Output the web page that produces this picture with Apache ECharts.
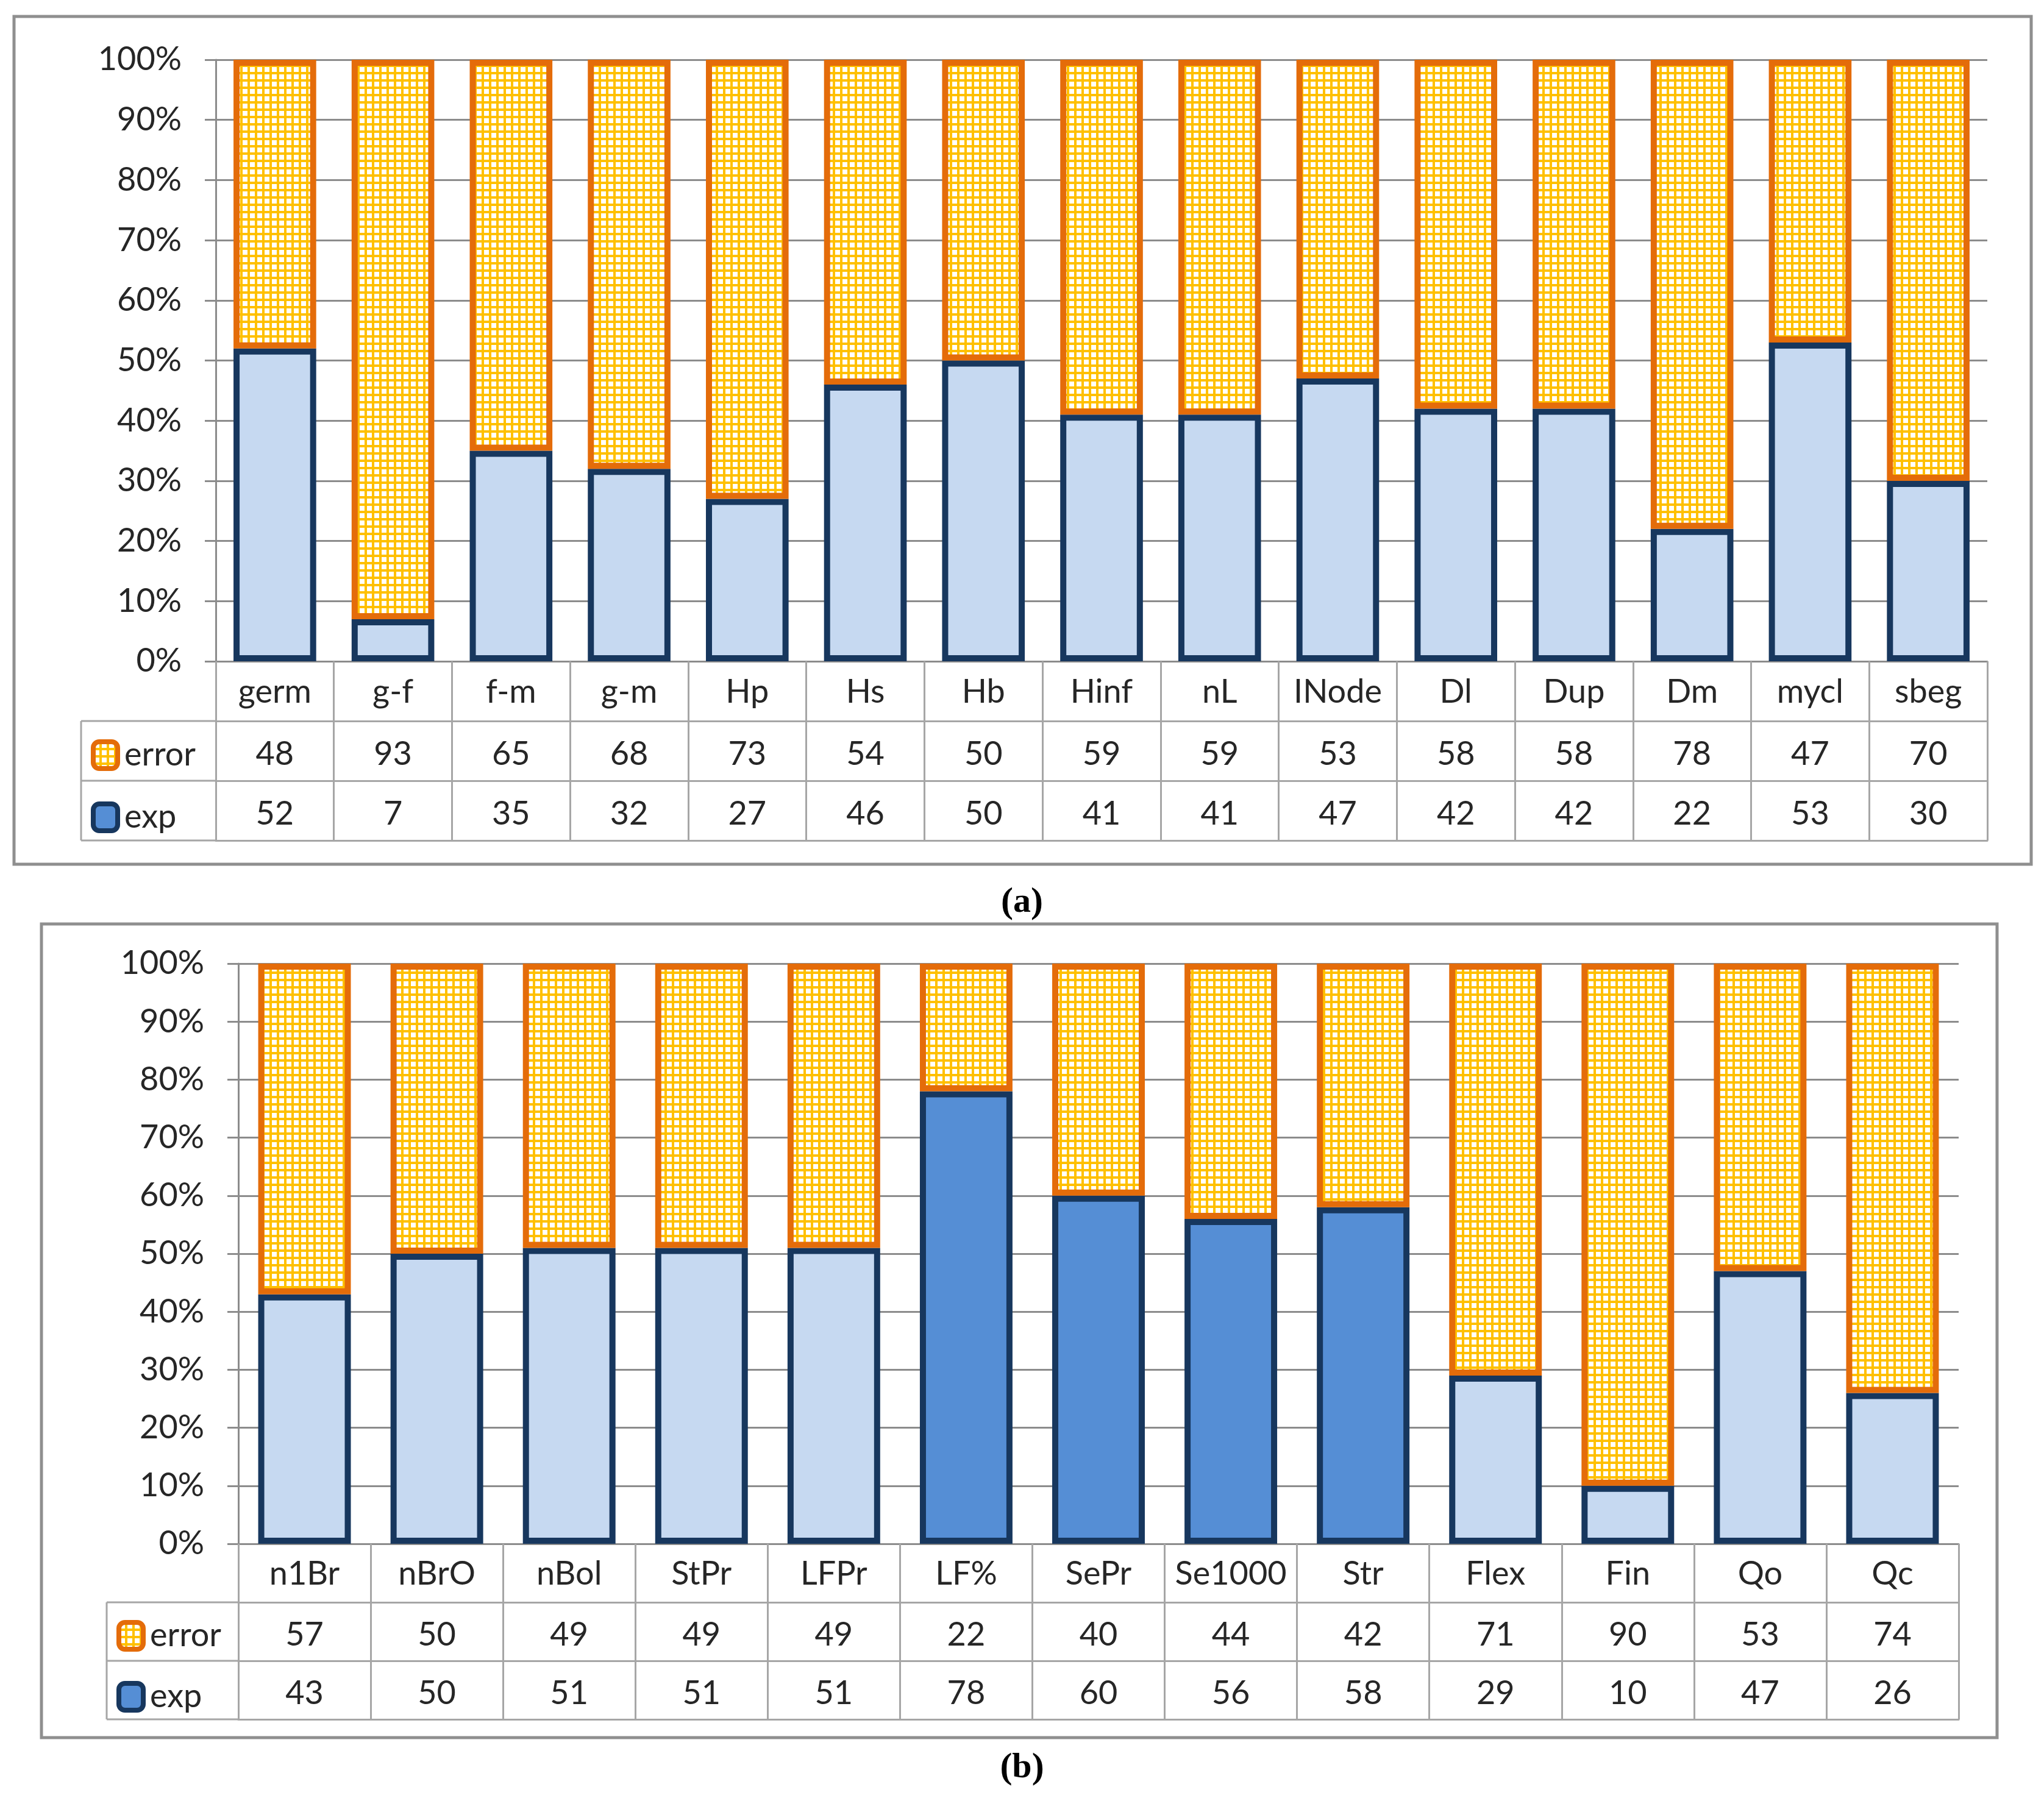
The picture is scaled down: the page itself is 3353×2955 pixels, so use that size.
<!DOCTYPE html>
<html>
<head>
<meta charset="utf-8">
<script src="https://cdn.jsdelivr.net/npm/echarts@6/dist/echarts.min.js"></script>
<style>
html, body { margin: 0; padding: 0; background: #fff; }
#main { width: 3353px; height: 2955px; }
</style>
</head>
<body>
<div id="main"></div>
<script>
// panel (a)
const catsA = ['germ', 'g-f', 'f-m', 'g-m', 'Hp', 'Hs', 'Hb', 'Hinf', 'nL', 'INode', 'Dl', 'Dup', 'Dm', 'mycl', 'sbeg']
const errorA = [48, 93, 65, 68, 73, 54, 50, 59, 59, 53, 58, 58, 78, 47, 70]
const expA = [52, 7, 35, 32, 27, 46, 50, 41, 41, 47, 42, 42, 22, 53, 30]

// panel (b)
const catsB = ['n1Br', 'nBrO', 'nBol', 'StPr', 'LFPr', 'LF%', 'SePr', 'Se1000', 'Str', 'Flex', 'Fin', 'Qo', 'Qc']
const errorB = [57, 50, 49, 49, 49, 22, 40, 44, 42, 71, 90, 53, 74]
const expB = [43, 50, 51, 51, 51, 78, 60, 56, 58, 29, 10, 47, 26]
const darkB = ['LF%', 'SePr', 'Se1000', 'Str']

const FONT = 'Lato'
const TXT = '#262626'
const GRID_C = '#8c8c8c'
const TABLE_C = '#a6a6a6'

// yellow grid pattern for the error bars
const tile = document.createElement('canvas')
tile.width = 12
tile.height = 12
const tc = tile.getContext('2d')
tc.fillStyle = '#FFC000'
tc.fillRect(0, 0, 12, 12)
tc.fillStyle = '#ffffff'
tc.fillRect(2, 2, 8, 8)
const errFill = { image: tile, repeat: 'repeat' }

// layout of the two panels
const LA = { left: 354, right: 3260, top: 98, bottom: 1085, row: 98, legLeft: 133 }
const LB = { left: 391, right: 3213, top: 1581, bottom: 2533, row: 96, legLeft: 175 }

function tableAxes(g, cats, err, exp, L) {
  const base = {
    type: 'category', gridIndex: g, position: 'bottom', data: cats,
    axisLine: { show: true, lineStyle: { color: TABLE_C, width: 3 } },
    axisTick: { show: true, interval: 0, inside: false, length: L.row, lineStyle: { color: TABLE_C, width: 3 } },
    axisLabel: { interval: 0, margin: L.row / 2 + 6, verticalAlign: 'middle', fontSize: 54, fontFamily: FONT, color: TXT }
  }
  return [
    { ...base, offset: 0, axisLine: { show: true, lineStyle: { color: GRID_C, width: 3 } },
      axisLabel: { ...base.axisLabel, margin: L.row / 2 + 2 } },
    { ...base, offset: L.row, axisLabel: { ...base.axisLabel, formatter: (v, i) => String(err[i]) } },
    { ...base, offset: L.row * 2, axisLabel: { ...base.axisLabel, formatter: (v, i) => String(exp[i]) } },
    { ...base, offset: L.row * 3, axisTick: { show: false }, axisLabel: { show: false } }
  ]
}

function yAxisFor(g) {
  return {
    type: 'value', gridIndex: g, min: 0, max: 100, interval: 10,
    axisLine: { show: true, lineStyle: { color: GRID_C, width: 3 } },
    axisTick: { show: true, length: 18, lineStyle: { color: GRID_C, width: 3 } },
    splitLine: { lineStyle: { color: GRID_C, width: 3 } },
    axisLabel: { formatter: '{value}%', fontSize: 54, fontFamily: FONT, color: TXT, margin: 56 }
  }
}

function legendFor(L) {
  const rowTop = L.bottom + L.row
  return {
    orient: 'vertical', left: L.legLeft + 16, top: rowTop + (L.row - 44) / 2 + 2,
    padding: 0, itemWidth: 40, itemHeight: 44, itemGap: L.row - 50, icon: 'roundRect',
    selectedMode: false,
    textStyle: { fontSize: 54, fontFamily: FONT, color: TXT, lineHeight: 44, padding: [0, 0, 0, 6] },
    data: [
      { name: 'error', itemStyle: { color: errFill, borderColor: '#E46C0A', borderWidth: 8 } },
      { name: 'exp', itemStyle: { color: '#558ED5', borderColor: '#17375E', borderWidth: 8 } }
    ]
  }
}

function legendCell(L) {
  const y0 = L.bottom + L.row
  const y1 = L.bottom + L.row * 3
  const ls = { stroke: TABLE_C, lineWidth: 3 }
  return [
    { type: 'line', shape: { x1: L.legLeft, y1: y0, x2: L.left, y2: y0 }, style: ls },
    { type: 'line', shape: { x1: L.legLeft, y1: y0 + L.row, x2: L.left, y2: y0 + L.row }, style: ls },
    { type: 'line', shape: { x1: L.legLeft, y1: y1, x2: L.left, y2: y1 }, style: ls },
    { type: 'line', shape: { x1: L.legLeft, y1: y0, x2: L.legLeft, y2: y1 }, style: ls }
  ]
}

const barBase = { type: 'bar', barWidth: '70%' }
const expStyle = { color: '#C6D9F1', borderColor: '#17375E', borderWidth: 10 }
const errStyle = { color: errFill, borderColor: '#E46C0A', borderWidth: 10 }

function caption(letter, top) {
  return {
    left: 'center', top: top,
    text: '{p|(}{b|' + letter + '}{p|)}',
    textStyle: { rich: {
      p: { fontSize: 60, fontFamily: 'Liberation Serif', color: '#000' },
      b: { fontSize: 58, fontFamily: 'Liberation Serif', fontWeight: 'bold', color: '#000' }
    } }
  }
}

const chart = echarts.init(document.getElementById('main'), null, { renderer: 'canvas' })

chart.setOption({
  animation: false,
  backgroundColor: '#fff',
  title: [caption('a', 1446), caption('b', 2866)],
  legend: [legendFor(LA), legendFor(LB)],
  grid: [
    { left: LA.left, top: LA.top, width: LA.right - LA.left, height: LA.bottom - LA.top, containLabel: false },
    { left: LB.left, top: LB.top, width: LB.right - LB.left, height: LB.bottom - LB.top, containLabel: false }
  ],
  xAxis: [
    ...tableAxes(0, catsA, errorA, expA, LA),
    ...tableAxes(1, catsB, errorB, expB, LB)
  ],
  yAxis: [yAxisFor(0), yAxisFor(1)],
  series: [
    { ...barBase, name: 'exp', stack: 'a', xAxisIndex: 0, yAxisIndex: 0, itemStyle: expStyle, data: expA },
    { ...barBase, name: 'error', stack: 'a', xAxisIndex: 0, yAxisIndex: 0, itemStyle: errStyle, data: errorA },
    {
      ...barBase, name: 'exp', stack: 'b', xAxisIndex: 4, yAxisIndex: 1, itemStyle: expStyle,
      data: expB.map((v, i) => darkB.includes(catsB[i]) ? { value: v, itemStyle: { color: '#558ED5' } } : v)
    },
    { ...barBase, name: 'error', stack: 'b', xAxisIndex: 4, yAxisIndex: 1, itemStyle: errStyle, data: errorB }
  ],
  graphic: [
    { type: 'rect', shape: { x: 23, y: 27, width: 3309, height: 1391 }, style: { fill: null, stroke: '#8f8f8f', lineWidth: 5 }, z: -1 },
    { type: 'rect', shape: { x: 68, y: 1516, width: 3208, height: 1335 }, style: { fill: null, stroke: '#8f8f8f', lineWidth: 5 }, z: -1 },
    ...legendCell(LA),
    ...legendCell(LB)
  ]
})
</script>
</body>
</html>
